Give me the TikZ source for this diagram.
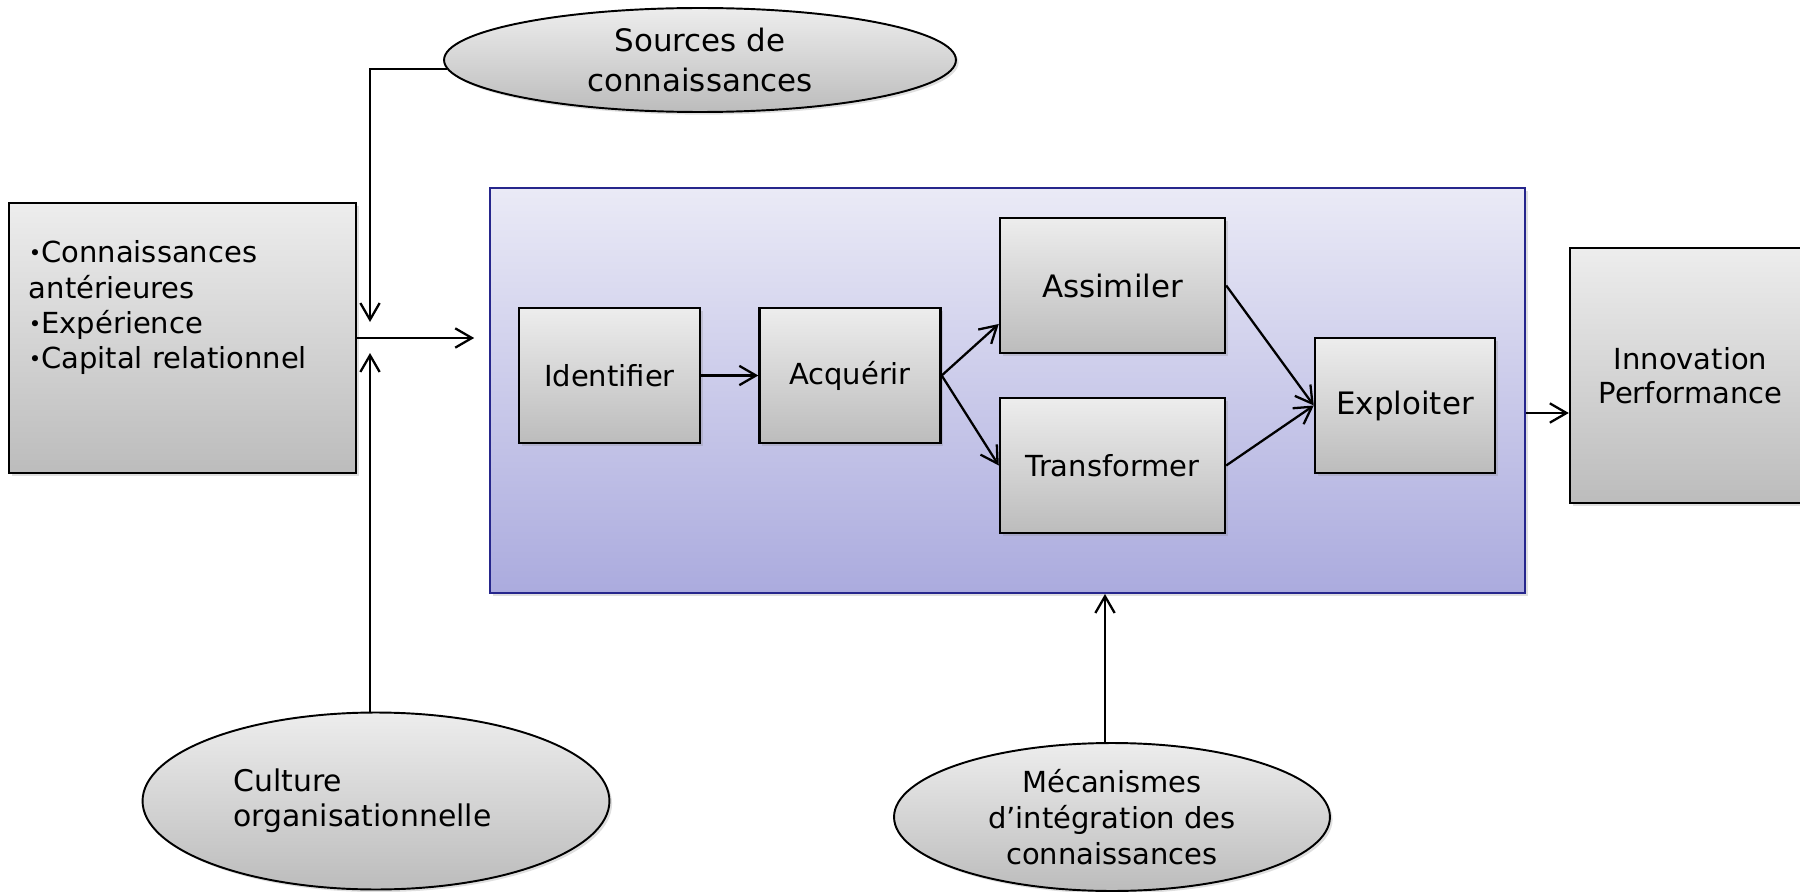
\documentclass[tikz,border=0pt]{standalone}
\usepackage{fontspec}
\setmainfont{DejaVu Sans}
\usetikzlibrary{arrows.meta,shadows,shapes.geometric,calc}
\definecolor{boxtop}{RGB}{237,237,237}
\definecolor{boxbot}{RGB}{188,188,188}
\definecolor{frametop}{RGB}{234,234,246}
\definecolor{framebot}{RGB}{171,171,222}
\definecolor{frameline}{RGB}{38,38,140}
\newcommand\bodyfont{\fontsize{16.5}{20}\selectfont}
\newcommand\bigbodyfont{\fontsize{17.6}{22.8}\selectfont}
\newcommand\itembullet{\raisebox{1.2pt}{\fontsize{12}{12}\selectfont\textbullet}}
\tikzset{every path/.style={line width=1.3pt},
  softshadow/.style={drop shadow={opacity=0.25,shadow xshift=1.5pt,shadow yshift=-1.5pt}},
  greybox/.style={draw=black, line width=1.4pt, top color=boxtop, bottom color=boxbot, softshadow, inner sep=2pt, font=\bodyfont, align=center},
  stepbox/.style={greybox, minimum width=3.62cm, minimum height=2.7cm},
  widebox/.style={greybox, minimum width=4.5cm, minimum height=2.7cm},
  greyoval/.style={ellipse, draw=black, line width=1.1pt, top color=boxtop, bottom color=boxbot, softshadow, inner sep=0pt, font=\bodyfont, align=center},
  arr/.style={-{Straight Barb[length=9.5pt,width=11pt,line width=1.3pt]}}}

\begin{document}
\begin{tikzpicture}[x=0.02cm,y=-0.02cm]
  \useasboundingbox (0,0) rectangle (1800,892);
  \node[greybox, minimum width=6.94cm, minimum height=5.4cm] (prior) at (182.5,338) {};
  \node[anchor=north west, inner sep=0pt, align=left, font=\bodyfont] (priortxt) at ($(prior.north west)+(20,38)$)
    {\itembullet Connaissances\\antérieures\\\itembullet Expérience\\\itembullet Capital relationnel};
  \node[greyoval, minimum width=10.24cm, minimum height=2.08cm, font=\bigbodyfont] (src) at (700,60) {Sources de\\connaissances};
  \node[greyoval, minimum width=9.34cm, minimum height=3.54cm, text width=5.7cm, align=left, font=\fontsize{17}{20}\selectfont] (cult) at (376,801) {Culture\\organisationnelle};
  \node[greyoval, minimum width=8.72cm, minimum height=2.96cm, font=\fontsize{16.5}{20.5}\selectfont] (mech) at (1112,817) {Mécanismes\\d’intégration des\\connaissances};
  \node[draw=frameline, line width=1.2pt, top color=frametop, bottom color=framebot, softshadow, minimum width=20.7cm, minimum height=8.1cm] (frame) at (1007.5,390.5) {};
  \node[stepbox] (ident) at (609.5,375.5) {Identifier};
  \node[stepbox] (acq) at (850,375.5) {Acquérir};
  \node[widebox, font=\bigbodyfont] (asm) at (1112.5,285.5) {Assimiler};
  \node[widebox] (trf) at (1112.5,465.5) {Transformer};
  \node[stepbox, minimum width=3.6cm, font=\bigbodyfont] (expl) at (1405,405.5) {Exploiter};
  \node[greybox, minimum width=4.82cm, minimum height=5.1cm, font=\fontsize{16.5}{19}\selectfont] (innov) at (1690.5,375.5) {Innovation\\Performance};
  \coordinate (mixtop) at (370,322);
  \coordinate (mixbot) at (370,353);
  \coordinate (frin) at ($(prior.east)+(117,0)$);
  \draw[arr] (src.182) -| (mixtop);
  \draw[arr] (cult.north -| mixbot) -- (mixbot);
  \draw[arr] (prior.east) -- (frin);
  \draw[arr] (ident) -- (acq);
  \draw[arr] (acq.east) -- ($(asm.south west)!0.22!(asm.north west)$);
  \draw[arr] (acq.east) -- (trf.west);
  \draw[arr] (asm.east) -- (expl.west);
  \draw[arr] (trf.east) -- (expl.west);
  \draw[arr] ($(mech.north)+(-7,0)$) -- ($(mech.north |- frame.south)+(-7,0)$);
  \draw[arr] ($(frame.east)+(0,22.5)$) -- ($(innov.west)+(0,37.5)$);
\end{tikzpicture}
\end{document}
